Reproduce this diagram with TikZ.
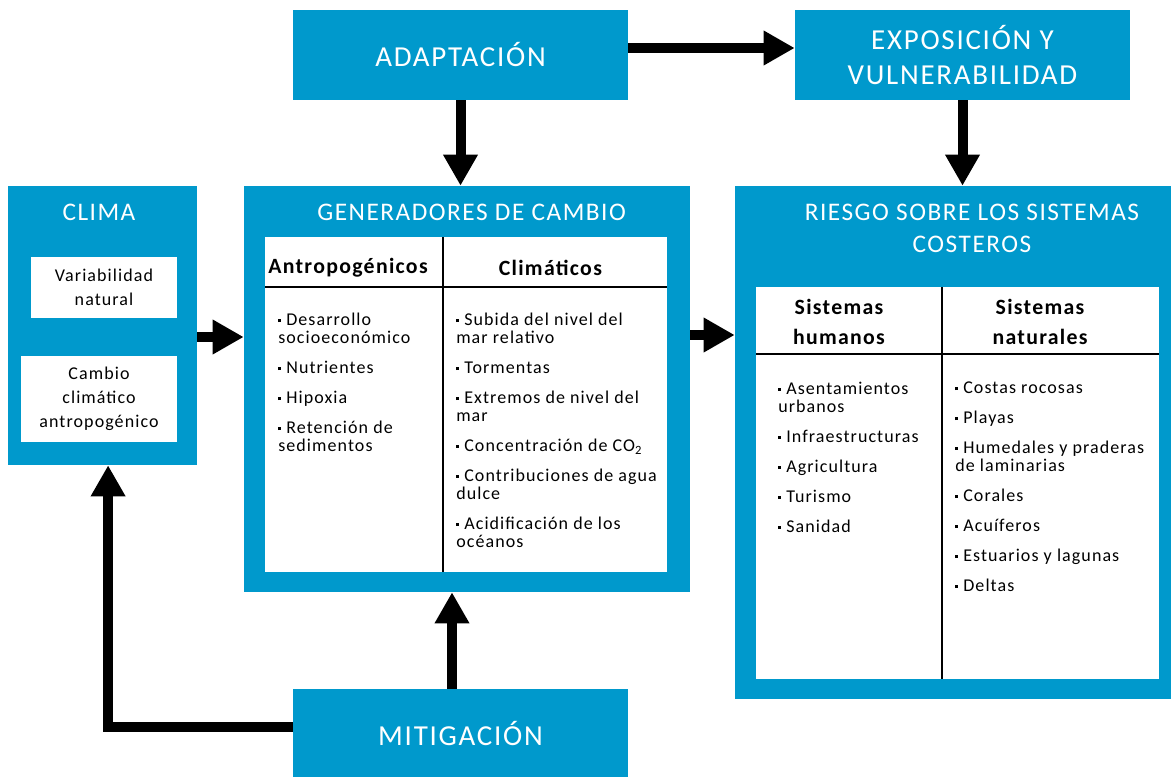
\documentclass[tikz,border=0pt]{standalone}
\usepackage{fontspec}
\setmainfont{Carlito}[LetterSpace=6]
\usepackage{xcolor}
\usepackage{tikz}
\usetikzlibrary{arrows.meta}
\definecolor{boxblue}{RGB}{0,153,204}
\newcommand{\sq}{\rule[0.22em]{0.16em}{0.16em}\space}
\tikzstyle{block} = [rectangle, fill=boxblue, text=white, inner sep=0pt]
\tikzstyle{panel} = [rectangle, fill=white, inner sep=0pt]
\tikzstyle{bigtitle} = [font=\fontsize{20.6}{24.9}\selectfont, align=center]
\tikzstyle{grouptitle} = [text=white, font=\fontsize{18}{22.8}\selectfont, align=center]
\tikzstyle{smallpanel} = [panel, font=\fontsize{12.8}{17}\selectfont, align=center]
\tikzstyle{colhead} = [font=\bfseries\fontsize{15.5}{21.3}\selectfont, align=center]
\tikzstyle{items} = [font=\fontsize{12.8}{12.8}\selectfont, align=left, anchor=north west, inner sep=0pt]
\tikzstyle{divider} = [draw, line width=1.5pt]
\tikzstyle{line} = [draw, line width=0.25cm, -{Triangle[length=0.78cm, width=0.82cm]}]

\begin{document}
\begin{tikzpicture}[x=1cm, y=-1cm]
\useasboundingbox (0,0) rectangle (29.275,19.425);
% top row
\node [block, bigtitle, minimum width=8.375cm, minimum height=2.25cm] (adapt) at (11.5125,1.375) {ADAPTACIÓN};
\node [block, bigtitle, minimum width=8.375cm, minimum height=2.25cm] (expo) at (24.0625,1.375) {EXPOSICIÓN Y\\VULNERABILIDAD};
\path [line] ([yshift=0.175cm]adapt.east) -- ([yshift=0.175cm]expo.west);
% clima
\node [block, minimum width=4.725cm, minimum height=6.975cm] (clima) at (2.5625,8.1375) {};
\node [grouptitle] (clima-title) at (2.475,5.3) {CLIMA};
\node [smallpanel, minimum width=3.65cm, minimum height=1.525cm] (clima-var) at (2.6,7.1875) {Variabilidad\\natural};
\node [smallpanel, minimum width=3.9cm, minimum height=2.15cm] (clima-antro) at (2.475,9.975) {Cambio\\climático\\antropogénico};
% generadores de cambio
\node [block, minimum width=11.15cm, minimum height=10.15cm] (gen) at (11.675,9.725) {};
\node [grouptitle] (gen-title) at (11.79,5.3) {GENERADORES DE CAMBIO};
\node [panel, minimum width=10.05cm, minimum height=8.375cm] (gen-panel) at (11.65,10.1125) {};
\draw [divider] (11.075,5.925) -- (11.075,14.3);
\draw [divider] (6.625,7.175) -- (16.675,7.175);
\node [colhead] (gen-antro) at (8.7,6.7) {Antropogénicos};
\node [colhead] (gen-clim) at (13.76,6.7) {Climáticos};
\node [items] (gen-antro-list) at (6.95,7.83) {\sq Desarrollo\\socioeconómico\\[0.3cm]\sq Nutrientes\\[0.3cm]\sq Hipoxia\\[0.3cm]\sq Retención de\\sedimentos};
\node [items] (gen-clim-list) at (11.4,7.83) {\sq Subida del nivel del\\mar relativo\\[0.3cm]\sq Tormentas\\[0.3cm]\sq Extremos de nivel del\\mar\\[0.3cm]\sq Concentración de CO\textsubscript{2}\\[0.3cm]\sq Contribuciones de agua\\dulce\\[0.3cm]\sq Acidificación de los\\océanos};
% riesgo
\node [block, minimum width=10.9cm, minimum height=12.825cm] (riesgo) at (23.825,11.0625) {};
\node [grouptitle] (riesgo-title) at (24.3,5.7) {RIESGO SOBRE LOS SISTEMAS\\COSTEROS};
\node [panel, minimum width=10.075cm, minimum height=9.8cm] (riesgo-panel) at (23.9375,12.075) {};
\draw [divider] (23.55,7.175) -- (23.55,16.975);
\draw [divider] (18.9,8.85) -- (28.975,8.85);
\node [colhead] (riesgo-hum) at (20.975,8.05) {Sistemas\\humanos};
\node [colhead] (riesgo-nat) at (26.0,8.05) {Sistemas\\naturales};
\node [items] (riesgo-hum-list) at (19.45,9.55) {\sq Asentamientos\\urbanos\\[0.3cm]\sq Infraestructuras\\[0.3cm]\sq Agricultura\\[0.3cm]\sq Turismo\\[0.3cm]\sq Sanidad};
\node [items] (riesgo-nat-list) at (23.875,9.55) {\sq Costas rocosas\\[0.3cm]\sq Playas\\[0.3cm]\sq Humedales y praderas\\de laminarias\\[0.3cm]\sq Corales\\[0.3cm]\sq Acuíferos\\[0.3cm]\sq Estuarios y lagunas\\[0.3cm]\sq Deltas};
% mitigacion
\node [block, bigtitle, minimum width=8.375cm, minimum height=2.2cm] (mitig) at (11.5125,18.325) {MITIGACIÓN};
% arrows
\path [line] (adapt.south) -- (adapt.south |- gen.north);
\path [line] (expo.south) -- (expo.south |- riesgo.north);
\coordinate (clima-out) at ([yshift=-0.2875cm]clima.east);
\path [line] (clima-out) -- (clima-out -| gen.west);
\coordinate (gen-out) at ([yshift=1.35cm]gen.east);
\path [line] (gen-out) -- (gen-out -| riesgo.west);
\coordinate (mitig-up) at ([xshift=-0.2125cm]mitig.north);
\path [line] (mitig-up) -- (mitig-up |- gen.south);
\coordinate (mitig-out) at ([yshift=0.15cm]mitig.west);
\path [line] (mitig-out) -| ([xshift=0.14cm]clima.south);
\end{tikzpicture}
\end{document}
